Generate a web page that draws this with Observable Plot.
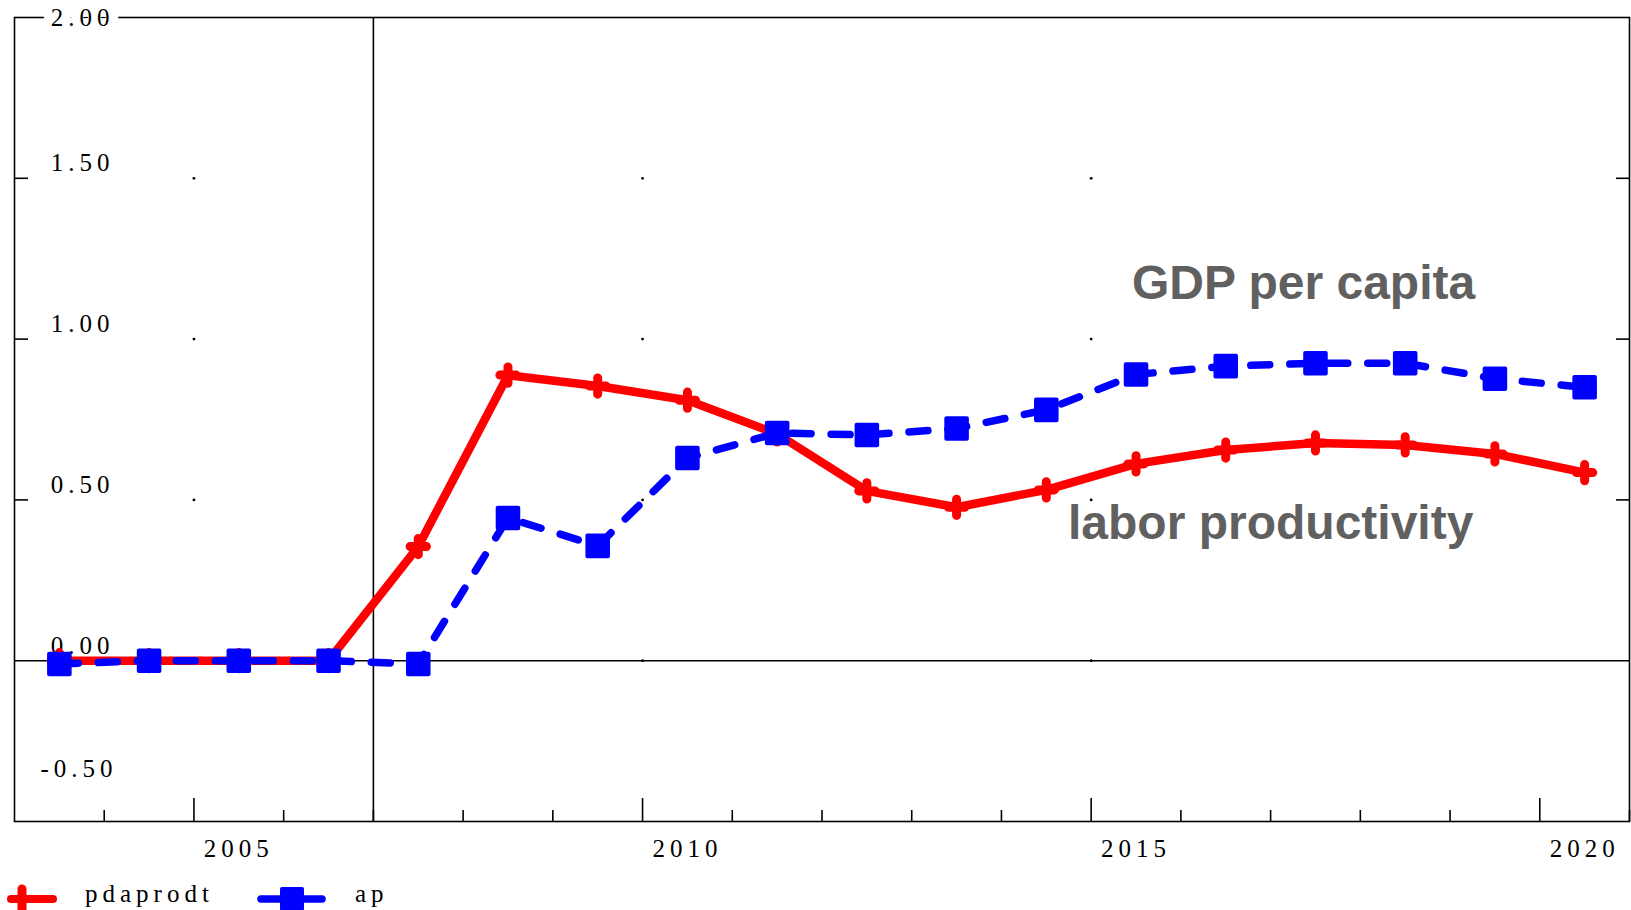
<!DOCTYPE html>
<html>
<head>
<meta charset="utf-8">
<script src="https://cdn.jsdelivr.net/npm/d3@7"></script>
<script src="https://cdn.jsdelivr.net/npm/@observablehq/plot@0.6"></script>
<style>
  html, body { margin: 0; padding: 0; background: #fff; }
  #chart { width: 1631px; height: 875px; }
  #legend { width: 1631px; height: 35px; position: relative; }
  .seriflab text, text.seriflab { font-family: "Liberation Serif", "Times New Roman", serif; letter-spacing: 5px; }
  .annot text { font-family: "Liberation Sans", Arial, sans-serif; }
</style>
</head>
<body>
<div id="chart"></div>
<div id="legend"></div>
<script>
// ---- data ----
const years = [2003, 2004, 2005, 2006, 2007, 2008, 2009, 2010, 2011, 2012, 2013, 2014, 2015, 2016, 2017, 2018, 2019, 2020];
const pdaprodt = [0.00, 0.00, 0.00, 0.00, 0.355, 0.888, 0.854, 0.810, 0.705, 0.528, 0.477, 0.531, 0.612, 0.655, 0.677, 0.671, 0.643, 0.585];
const ap = [-0.01, 0.00, 0.00, 0.00, -0.01, 0.444, 0.357, 0.630, 0.708, 0.702, 0.722, 0.780, 0.890, 0.916, 0.925, 0.925, 0.877, 0.850];
const yTickValues = [-0.5, 0, 0.5, 1, 1.5, 2];
const yTickLabels = ["-0.50", "0.00", "0.50", "1.00", "1.50", "2.00"];
const xLabelYears = [2005, 2010, 2015, 2020];
const xMinorYears = [2004, 2006, 2007, 2008, 2009, 2011, 2012, 2013, 2014, 2016, 2017, 2018, 2019, 2021];
const gridYears = [2005, 2010, 2015];
const gridValues = [0, 0.5, 1, 1.5];
const seriesNames = ["pdaprodt", "ap"];
const annotations = ["GDP per capita", "labor productivity"];

// ---- build tables ----
const redData = years.map((y, i) => ({year: y, value: pdaprodt[i]}));
const blueData = years.map((y, i) => ({year: y, value: ap[i]}));
const gridDots = gridYears.flatMap(x => gridValues.map(v => ({x, v})));
const yLab = yTickValues.map((v, i) => ({v, label: yTickLabels[i]}));

const W = 1631, H = 875, mL = 14, mR = 2, mT = 17, mB = 54;
const plotW = W - mL - mR, plotH = H - mT - mB;
const serif = '"Liberation Serif", "Times New Roman", serif';
const sans = '"Liberation Sans", Arial, sans-serif';

const chart = Plot.plot({
  width: W, height: H,
  marginLeft: mL, marginRight: mR, marginTop: mT, marginBottom: mB,
  x: {domain: [2003, 2021], axis: null},
  y: {domain: [-0.5, 2], axis: null},
  style: {fontFamily: serif, background: "white", overflow: "visible"},
  marks: [
    Plot.frame({stroke: "black", strokeWidth: 1.6}),
    Plot.ruleY([0], {stroke: "black", strokeWidth: 1.6}),
    Plot.ruleX([2007], {stroke: "black", strokeWidth: 1.6}),
    // left / right ticks
    Plot.tickY([0.5, 1, 1.5], {stroke: "black", strokeWidth: 1.6, insetRight: plotW - 14}),
    Plot.tickY([0.5, 1, 1.5], {stroke: "black", strokeWidth: 1.6, insetLeft: plotW - 13}),
    // bottom ticks
    Plot.tickX(xMinorYears, {stroke: "black", strokeWidth: 1.6, insetTop: plotH - 11}),
    Plot.tickX(xLabelYears, {stroke: "black", strokeWidth: 1.6, insetTop: plotH - 23}),
    // dotted grid
    Plot.dot(gridDots, {x: "x", y: "v", r: 1.4, fill: "black", stroke: null}),
    // y labels
    Plot.text(yLab.filter(d => d.v === 2), {x: () => 2003, y: "v", text: "label", dx: 100, textAnchor: "end", lineAnchor: "middle", fontSize: 25, fill: "black", stroke: "white", strokeWidth: 19, className: "seriflab"}),
    Plot.text(yLab.filter(d => d.v === -0.5), {x: () => 2003, y: "v", text: "label", dx: 103, dy: -53, textAnchor: "end", lineAnchor: "middle", fontSize: 25, fill: "black", className: "seriflab"}),
    Plot.text(yLab.filter(d => d.v > -0.5 && d.v < 2), {x: () => 2003, y: "v", text: "label", dx: 100, dy: -15, textAnchor: "end", lineAnchor: "middle", fontSize: 25, fill: "black", className: "seriflab"}),
    // x labels
    Plot.text(xLabelYears, {x: d => d + 0.5, y: () => -0.5, text: d => String(d), dy: 27, textAnchor: "middle", lineAnchor: "middle", fontSize: 25, fill: "black", className: "seriflab"}),
    // series
    Plot.line(redData, {x: d => d.year + 0.5, y: "value", stroke: "#ff0000", strokeWidth: 8.5, strokeLinejoin: "round", strokeLinecap: "round"}),
    Plot.dot(redData, {x: d => d.year + 0.5, y: "value", symbol: "plus", r: 5.3, stroke: "#ff0000", strokeWidth: 9, strokeLinecap: "round"}),
    Plot.line(blueData, {x: d => d.year + 0.5, y: "value", stroke: "#0000ff", strokeWidth: 7.5, strokeDasharray: "19,20", strokeLinecap: "round", strokeLinejoin: "round"}),
    Plot.dot(blueData, {x: d => d.year + 0.5, y: "value", symbol: "square", r: 11.6, fill: "#0000ff", stroke: "#0000ff", strokeWidth: 4, strokeLinejoin: "round"}),
    // annotations
    Plot.text([annotations[0]], {x: () => 2019.28, y: () => 1.126, text: d => d, textAnchor: "end", lineAnchor: "bottom", fontSize: 48, fontWeight: "bold", fill: "#606060", fontFamily: sans, className: "annot"}),
    Plot.text([annotations[1]], {x: () => 2019.26, y: () => 0.377, text: d => d, textAnchor: "end", lineAnchor: "bottom", fontSize: 48, fontWeight: "bold", fill: "#606060", fontFamily: sans, className: "annot"})
  ]
});
document.getElementById("chart").appendChild(chart);

// ---- legend ----
const lg = d3.select("#legend").append("svg").attr("width", 420).attr("height", 35);
// red item
lg.append("line").attr("x1", 11).attr("x2", 53).attr("y1", 24).attr("y2", 24)
  .attr("stroke", "#ff0000").attr("stroke-width", 8).attr("stroke-linecap", "round");
lg.append("line").attr("x1", 22).attr("x2", 22).attr("y1", 14).attr("y2", 40)
  .attr("stroke", "#ff0000").attr("stroke-width", 9).attr("stroke-linecap", "round");
lg.append("text").attr("class", "seriflab").attr("x", 85).attr("y", 27).attr("font-size", 25)
  .text(seriesNames[0]);
// blue item
lg.append("line").attr("x1", 261).attr("x2", 322).attr("y1", 24).attr("y2", 24)
  .attr("stroke", "#0000ff").attr("stroke-width", 7.5).attr("stroke-linecap", "round");
lg.append("rect").attr("x", 282).attr("y", 14).attr("width", 20).attr("height", 20)
  .attr("fill", "#0000ff").attr("stroke", "#0000ff").attr("stroke-width", 4).attr("stroke-linejoin", "round");
lg.append("text").attr("class", "seriflab").attr("x", 355).attr("y", 27).attr("font-size", 25)
  .text(seriesNames[1]);
</script>
</body>
</html>
